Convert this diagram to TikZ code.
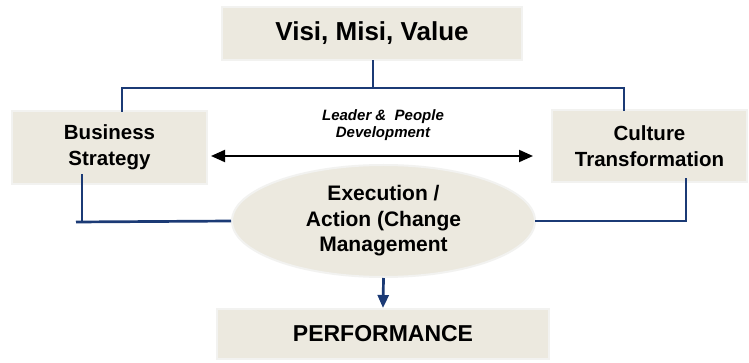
\documentclass[tikz,border=0pt]{standalone}
\usepackage{fontspec}
\setmainfont{Liberation Sans}
\usetikzlibrary{shapes.geometric,arrows.meta,calc}
\definecolor{boxfill}{HTML}{ECE9DF}
\definecolor{boxedge}{HTML}{F2F2F0}
\definecolor{navy}{HTML}{1B3A75}
\begin{document}
\begin{tikzpicture}[x=1pt,y=-1pt,
  box/.style={draw=boxedge,line width=2pt,fill=boxfill,inner sep=0pt,align=center,font=\bfseries},
  conn/.style={draw=navy,line width=2.7pt,line cap=rect},
]
\useasboundingbox[fill=white] (0,0) rectangle (749,363);
\node[box,minimum width=300pt,minimum height=53pt,font=\bfseries\fontsize{26}{30}\selectfont] (T) at (372,33.5) {Visi, Misi, Value};
\node[box,minimum width=195pt,minimum height=73pt,font=\bfseries\fontsize{20.5}{26}\selectfont] (L) at (109.5,147.5) {Business\\Strategy};
\node[box,minimum width=195pt,minimum height=72pt,font=\bfseries\fontsize{20.5}{26}\selectfont] (R) at (649.5,146) {Culture\\Transformation};
\node[box,ellipse,minimum width=303pt,minimum height=112pt,font=\bfseries\fontsize{21}{25.5}\selectfont] (E) at (383.5,221) {Execution /\\Action (Change\\Management};
\node[box,minimum width=332pt,minimum height=50pt,font=\bfseries\fontsize{23}{27}\selectfont] (P) at (383,334) {PERFORMANCE};
\node[align=center,font=\bfseries\itshape\fontsize{15}{17}\selectfont] (D) at (383,125) {Leader \&\ \ People\\Development};

\coordinate (j) at (373,88);
\coordinate (lt) at (122,111);
\coordinate (rt) at (624,110);
\coordinate (lb) at (82,175);
\coordinate (rb) at (686,179);
\coordinate (tick) at (76,222);
\coordinate (al) at (211,156);
\coordinate (ar) at (533,156);

\draw[conn] (T.south -| j) -- (j);
\draw[conn] (lt) |- (j) -| (rt);
\draw[conn] (lb) -- (lb |- E.west);
\draw[conn,line cap=butt] (tick) -- (E.west);
\draw[conn] (rb) |- (E.east);
\draw[black,line width=2pt,{Triangle[length=14pt,width=12pt]}-{Triangle[length=14pt,width=12pt]}] (al) -- (ar);
\draw[conn,line cap=butt,-{Triangle[length=13pt,width=11pt]}] (E.south) -- (P.north);
\end{tikzpicture}
\end{document}
